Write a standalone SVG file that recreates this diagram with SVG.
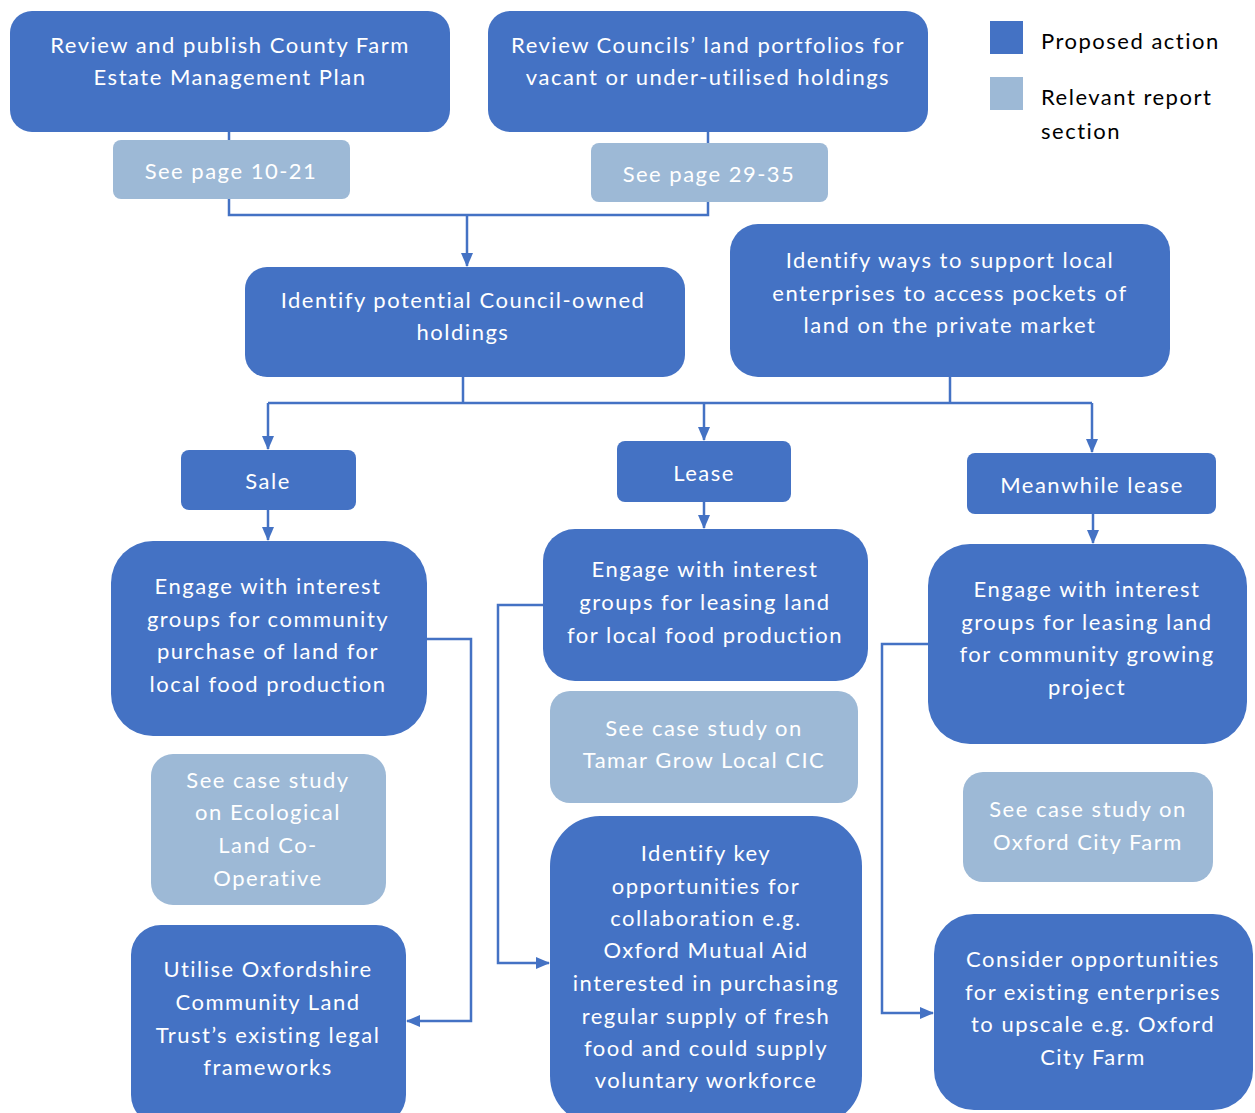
<svg xmlns="http://www.w3.org/2000/svg" width="1255" height="1113" viewBox="0 0 1255 1113">
<style>
.act{fill:#4472C4}
.rel{fill:#9DB9D6}
text{font-family:Lato,"Open Sans","Liberation Sans",sans-serif;font-size:22px;letter-spacing:1.5px}
.w{fill:#FFFFFF;text-anchor:middle}
.k{fill:#000000}
.c{fill:none;stroke:#4472C4;stroke-width:2.5}
</style>
<defs>
<marker id="ah" markerWidth="14" markerHeight="12" refX="13" refY="6" orient="auto" markerUnits="userSpaceOnUse" viewBox="0 0 14 12">
<path d="M0,0 L14,6 L0,12 Z" fill="#4472C4"/>
</marker>
</defs>
<rect width="1255" height="1113" fill="#FFFFFF"/>

<g id="connectors">
<path class="c" d="M229,132 V140 M229,199 V215 H708 V202 M708,132 V143"/>
<path class="c" d="M467,215 V266" marker-end="url(#ah)"/>
<path class="c" d="M463,377 V403 M950,377 V403 M268,403 H1092"/>
<path class="c" d="M268,403 V449" marker-end="url(#ah)"/>
<path class="c" d="M704,403 V440" marker-end="url(#ah)"/>
<path class="c" d="M1092,403 V452" marker-end="url(#ah)"/>
<path class="c" d="M268,510 V540" marker-end="url(#ah)"/>
<path class="c" d="M704,502 V528" marker-end="url(#ah)"/>
<path class="c" d="M1093,514 V543" marker-end="url(#ah)"/>
<path class="c" d="M427,639 H471 V1021 H407" marker-end="url(#ah)"/>
<path class="c" d="M543,605 H498 V963 H549" marker-end="url(#ah)"/>
<path class="c" d="M928,644 H882 V1013 H933" marker-end="url(#ah)"/>
</g>

<g id="legend">
<rect class="act" x="990" y="21" width="33" height="33"/>
<text class="k" x="1041" y="49">Proposed action</text>
<rect class="rel" x="990" y="77" width="33" height="33"/>
<text class="k" x="1041" y="105">Relevant report</text>
<text class="k" x="1041" y="139">section</text>
</g>

<g id="n1">
<rect class="act" x="10" y="11" width="440" height="121" rx="22"/>
<text class="w" x="230" y="53">Review and publish County Farm</text>
<text class="w" x="230" y="85">Estate Management Plan</text>
</g>
<g id="r1">
<rect class="rel" x="113" y="140" width="237" height="59" rx="8"/>
<text class="w" x="231" y="179">See page 10-21</text>
</g>
<g id="n2">
<rect class="act" x="488" y="11" width="440" height="121" rx="22"/>
<text class="w" x="708" y="53">Review Councils’ land portfolios for</text>
<text class="w" x="708" y="85">vacant or under-utilised holdings</text>
</g>
<g id="r2">
<rect class="rel" x="591" y="143" width="237" height="59" rx="8"/>
<text class="w" x="709" y="182">See page 29-35</text>
</g>
<g id="n3">
<rect class="act" x="245" y="267" width="440" height="110" rx="22"/>
<text class="w" x="463" y="308">Identify potential Council-owned</text>
<text class="w" x="463" y="340">holdings</text>
</g>
<g id="n4">
<rect class="act" x="730" y="224" width="440" height="153" rx="28"/>
<text class="w" x="950" y="268">Identify ways to support local</text>
<text class="w" x="950" y="301">enterprises to access pockets of</text>
<text class="w" x="950" y="333">land on the private market</text>
</g>
<g id="sale">
<rect class="act" x="181" y="450" width="175" height="60" rx="8"/>
<text class="w" x="268" y="489">Sale</text>
</g>
<g id="lease">
<rect class="act" x="617" y="441" width="174" height="61" rx="8"/>
<text class="w" x="704" y="481">Lease</text>
</g>
<g id="meanwhile">
<rect class="act" x="967" y="453" width="249" height="61" rx="8"/>
<text class="w" x="1092" y="493">Meanwhile lease</text>
</g>
<g id="n5">
<rect class="act" x="111" y="541" width="316" height="195" rx="42"/>
<text class="w" x="268" y="594">Engage with interest</text>
<text class="w" x="268" y="627">groups for community</text>
<text class="w" x="268" y="659">purchase of land for</text>
<text class="w" x="268" y="692">local food production</text>
</g>
<g id="n6">
<rect class="act" x="543" y="529" width="325" height="152" rx="32"/>
<text class="w" x="705" y="577">Engage with interest</text>
<text class="w" x="705" y="610">groups for leasing land</text>
<text class="w" x="705" y="643">for local food production</text>
</g>
<g id="n7">
<rect class="act" x="928" y="544" width="319" height="200" rx="42"/>
<text class="w" x="1087" y="597">Engage with interest</text>
<text class="w" x="1087" y="630">groups for leasing land</text>
<text class="w" x="1087" y="662">for community growing</text>
<text class="w" x="1087" y="695">project</text>
</g>
<g id="r3">
<rect class="rel" x="151" y="754" width="235" height="151" rx="22"/>
<text class="w" x="268" y="788">See case study</text>
<text class="w" x="268" y="820">on Ecological</text>
<text class="w" x="268" y="853">Land Co-</text>
<text class="w" x="268" y="886">Operative</text>
</g>
<g id="r4">
<rect class="rel" x="550" y="691" width="308" height="112" rx="20"/>
<text class="w" x="704" y="736">See case study on</text>
<text class="w" x="704" y="768">Tamar Grow Local CIC</text>
</g>
<g id="r5">
<rect class="rel" x="963" y="772" width="250" height="110" rx="20"/>
<text class="w" x="1088" y="817">See case study on</text>
<text class="w" x="1088" y="850">Oxford City Farm</text>
</g>
<g id="n8">
<rect class="act" x="131" y="925" width="275" height="200" rx="30"/>
<text class="w" x="268" y="977">Utilise Oxfordshire</text>
<text class="w" x="268" y="1010">Community Land</text>
<text class="w" x="268" y="1043">Trust’s existing legal</text>
<text class="w" x="268" y="1075">frameworks</text>
</g>
<g id="n9">
<rect class="act" x="550" y="816" width="312" height="310" rx="50"/>
<text class="w" x="706" y="861">Identify key</text>
<text class="w" x="706" y="894">opportunities for</text>
<text class="w" x="706" y="926">collaboration e.g.</text>
<text class="w" x="706" y="958">Oxford Mutual Aid</text>
<text class="w" x="706" y="991">interested in purchasing</text>
<text class="w" x="706" y="1024">regular supply of fresh</text>
<text class="w" x="706" y="1056">food and could supply</text>
<text class="w" x="706" y="1088">voluntary workforce</text>
</g>
<g id="n10">
<rect class="act" x="934" y="914" width="319" height="196" rx="40"/>
<text class="w" x="1093" y="967">Consider opportunities</text>
<text class="w" x="1093" y="1000">for existing enterprises</text>
<text class="w" x="1093" y="1032">to upscale e.g. Oxford</text>
<text class="w" x="1093" y="1065">City Farm</text>
</g>
</svg>
